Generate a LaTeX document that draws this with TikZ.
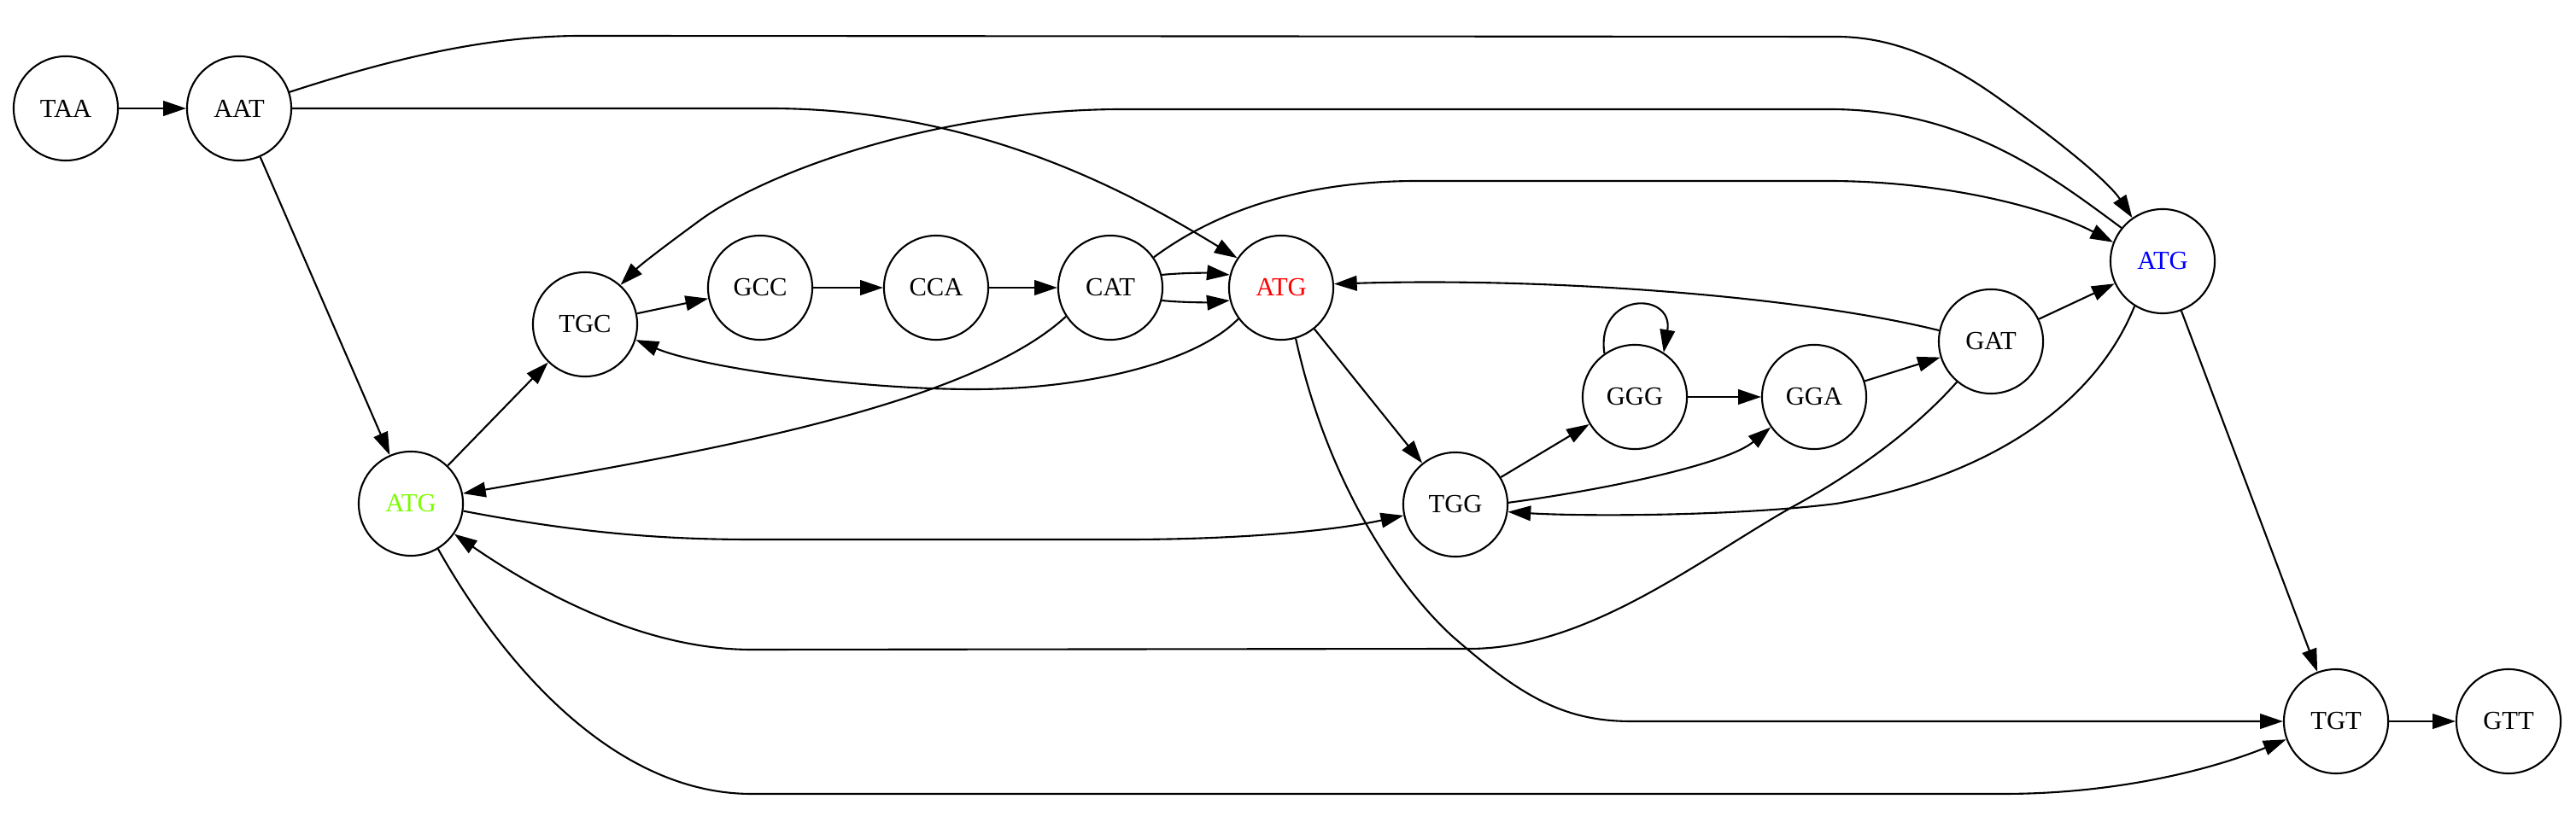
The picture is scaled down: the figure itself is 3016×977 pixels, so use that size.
\documentclass[tikz,border=0pt]{standalone}
\usepackage{fontspec}
\setmainfont{Liberation Serif}
\usetikzlibrary{arrows.meta}
\definecolor{lgreen}{RGB}{124,252,0}
\begin{document}
\begin{tikzpicture}[x=0.01cm,y=-0.01cm,
  vtx/.style={circle,draw,line width=0.6pt,minimum size=1.22cm,inner sep=0pt,font=\fontsize{8.7}{10}\selectfont},
  edge/.style={line width=0.6pt,-{Triangle[length=7.6pt,width=5pt]}}]
\useasboundingbox (0,0) rectangle (3016,977);
\node[vtx] (TAA) at (77,127) {TAA};
\node[vtx] (AAT) at (280,127) {AAT};
\node[vtx] (TGC) at (685,380) {TGC};
\node[vtx] (GCC) at (890,337) {GCC};
\node[vtx] (CCA) at (1096,337) {CCA};
\node[vtx] (CAT) at (1300,337) {CAT};
\node[vtx,text=red] (ATGr) at (1500,337) {ATG};
\node[vtx,text=lgreen] (ATGg) at (481,590) {ATG};
\node[vtx] (TGG) at (1704,591) {TGG};
\node[vtx] (GGG) at (1914,465) {GGG};
\node[vtx] (GGA) at (2124,465) {GGA};
\node[vtx] (GAT) at (2331,400) {GAT};
\node[vtx,text=blue] (ATGb) at (2532,306) {ATG};
\node[vtx] (TGT) at (2735,845) {TGT};
\node[vtx] (GTT) at (2937,845) {GTT};
% straight edges
\draw[edge] (TAA) -- (AAT);
\draw[edge] (AAT) -- (ATGg);
\draw[edge] (ATGg) -- (TGC);
\draw[edge] (TGC) -- (GCC);
\draw[edge] (GCC) -- (CCA);
\draw[edge] (CCA) -- (CAT);
\draw[edge] (ATGr) -- (TGG);
\draw[edge] (TGG) -- (GGG);
\draw[edge] (GGG) -- (GGA);
\draw[edge] (GGA) -- (GAT);
\draw[edge] (GAT) -- (ATGb);
\draw[edge] (ATGb) -- (TGT);
\draw[edge] (TGT) -- (GTT);
% curved edges
\draw[edge] (AAT.18) .. controls (440,75) and (560,42) .. (680,42) -- (2150,43) .. controls (2210,43) and (2270,65) .. (2340,115) .. controls (2420,172) and (2470,215) .. (ATGb.125);
\draw[edge] (AAT.east) -- (900,127) .. controls (1150,127) and (1330,230) .. (ATGr.146);
\draw[edge] (ATGb.141) .. controls (2400,205) and (2300,128) .. (2142,128) -- (1314,128) .. controls (1100,128) and (900,200) .. (821,257) .. controls (780,287) and (750,310) .. (TGC.48);
\draw[edge] (CAT.35) .. controls (1420,250) and (1520,212) .. (1660,212) -- (2140,212) .. controls (2280,212) and (2400,245) .. (ATGb.159);
\draw[edge] (CAT.14) .. controls (1390,319) and (1420,320) .. (ATGr.166);
\draw[edge] (CAT.-14) .. controls (1390,355) and (1420,354) .. (ATGr.-166);
\draw[edge] (ATGr.216) .. controls (1400,425) and (1270,456) .. (1140,456) .. controls (1000,456) and (820,430) .. (TGC.-17);
\draw[edge] (CAT.213) .. controls (1130,480) and (790,535) .. (ATGg.11);
\draw[edge] (ATGg.-8) .. controls (680,625) and (780,632) .. (880,632) -- (1319,632) .. controls (1450,632) and (1560,622) .. (TGG.192);
\draw[edge] (GAT.230) .. controls (2240,505) and (2170,555) .. (2100,593) .. controls (1990,655) and (1860,760) .. (1720,760) -- (880,761) .. controls (760,761) and (640,700) .. (ATGg.-35);
\draw[edge] (ATGb.238) .. controls (2450,480) and (2320,560) .. (2150,590) .. controls (2030,605) and (1850,605) .. (TGG.-8);
\draw[edge] (TGG.2) .. controls (1870,575) and (2020,545) .. (GGA.215);
\draw[edge] (GGG.125) .. controls (1868,341) and (1960,341) .. (GGG.57);
\draw[edge] (GAT.168) .. controls (2100,345) and (1800,325) .. (ATGr.4);
\draw[edge] (ATGr.-74) .. controls (1555,570) and (1640,690) .. (1700,745) .. controls (1780,815) and (1830,845) .. (1910,845) -- (TGT.west);
\draw[edge] (ATGg.-59) .. controls (590,780) and (720,930) .. (880,930) -- (2345,930) .. controls (2470,930) and (2580,905) .. (TGT.200);
\end{tikzpicture}
\end{document}
